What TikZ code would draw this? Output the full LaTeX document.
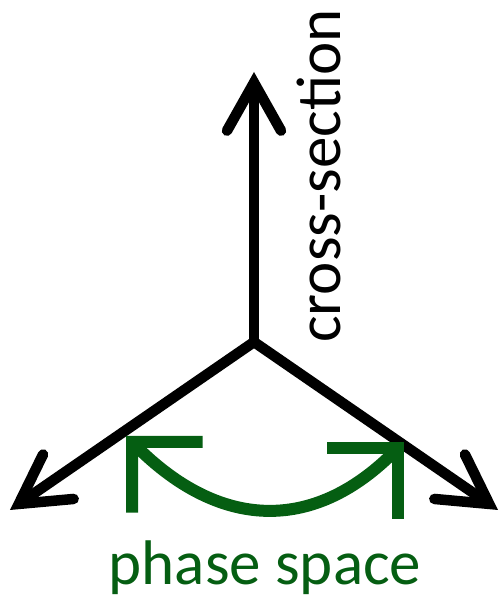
\documentclass[tikz,border=0pt]{standalone}
\usepackage{fontspec}
\setmainfont{Carlito}
\usetikzlibrary{arrows.meta}
\definecolor{phasegreen}{RGB}{5,94,18}

\begin{document}
\begin{tikzpicture}[
        x = 1pt, y = 1pt, % one unit per pixel
        > = {Straight Barb[length=48pt, width=54pt, line cap=round]}, % open arrow head
        axis/.style = {line width=10.5pt, line join=miter},
        swing/.style = {phasegreen, line width=12pt,
          {Straight Barb[length=50pt, width=100pt]}-{Straight Barb[length=50pt, width=100pt]}},
        word/.style = {font=\fontsize{63}{63}\selectfont, inner sep=0pt}
        ]
  \useasboundingbox (0,0) rectangle (501,600);

  \coordinate (origin) at (254,258);
  \coordinate (up) at (254,528);
  \coordinate (left) at (10,90);
  \coordinate (right) at (498,90);

  \draw[axis,->] (origin) -- (up);
  \draw[axis,<->] (left) -- (origin) -- (right);

  % green swing between the two lower axes
  \coordinate (swingl) at (126,164);
  \coordinate (swingr) at (404,158);
  \draw[swing] (swingl) to[out=-45, in=-135, looseness=1.2] (swingr);

  \node[word, rotate=90, anchor=base] (cross) at (340,424) {cross-section};
  \node[word, phasegreen, anchor=base] (phase) at (265,16) {phase space};

\end{tikzpicture}
\end{document}
